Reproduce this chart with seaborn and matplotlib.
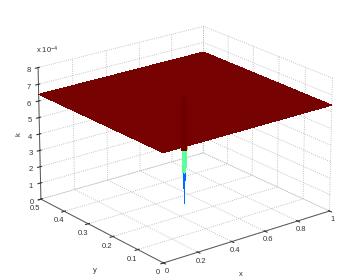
import numpy as np
import seaborn as sns
import matplotlib
matplotlib.use("Agg")
import matplotlib.pyplot as plt

# grid is refined round the dip in the middle
x_vals = [0, 0.488, 0.4895, 0.491, 0.495, 0.5, 0.505, 0.509, 0.5105, 0.512, 1]
y_vals = [0, 0.244, 0.24475, 0.2455, 0.2475, 0.25, 0.2525, 0.2545, 0.25525, 0.256, 0.5]
# k in units of 1e-4, rows follow y_vals
k_vals = [
    [6.4, 6.4, 6.4, 6.4, 6.4, 6.4, 6.4, 6.4, 6.4, 6.4, 6.4],
    [6.4, 6.4, 6.4, 6.4, 6.4, 6.4, 6.4, 6.4, 6.4, 6.4, 6.4],
    [6.4, 6.4, 5.0, 5.0, 5.0, 5.0, 5.0, 5.0, 5.0, 6.4, 6.4],
    [6.4, 6.4, 5.0, 3.4, 3.4, 3.4, 3.4, 3.4, 5.0, 6.4, 6.4],
    [6.4, 6.4, 5.0, 3.4, 2.0, 2.0, 2.0, 3.4, 5.0, 6.4, 6.4],
    [6.4, 6.4, 5.0, 3.4, 2.0, 0.1, 2.0, 3.4, 5.0, 6.4, 6.4],
    [6.4, 6.4, 5.0, 3.4, 2.0, 2.0, 2.0, 3.4, 5.0, 6.4, 6.4],
    [6.4, 6.4, 5.0, 3.4, 3.4, 3.4, 3.4, 3.4, 5.0, 6.4, 6.4],
    [6.4, 6.4, 5.0, 5.0, 5.0, 5.0, 5.0, 5.0, 5.0, 6.4, 6.4],
    [6.4, 6.4, 6.4, 6.4, 6.4, 6.4, 6.4, 6.4, 6.4, 6.4, 6.4],
    [6.4, 6.4, 6.4, 6.4, 6.4, 6.4, 6.4, 6.4, 6.4, 6.4, 6.4],
]
x_ticks = [0, 0.2, 0.4, 0.6, 0.8, 1]
x_labels = ['0', '0.2', '0.4', '0.6', '0.8', '1']
y_ticks = [0, 0.1, 0.2, 0.3, 0.4, 0.5]
y_labels = ['0', '0.1', '0.2', '0.3', '0.4', '0.5']
z_ticks = [0, 1, 2, 3, 4, 5, 6, 7, 8]
# the darker streak on the sheet above the dip
streak_x = [0.5, 0.5]
streak_y = [0.25, 0.25]
streak_k = [6.55, 3.3]


def main():
    sns.set_style('white')
    plt.rcParams['font.family'] = ['Liberation Sans', 'DejaVu Sans']
    plt.rcParams['mathtext.default'] = 'regular'

    fig = plt.figure(figsize=(3.38, 2.8), dpi=100)
    # axes3d keeps a square box, so make it big enough not to clip the sheet
    ax = fig.add_axes([-21 / 338, -65 / 280, 400 / 338, 400 / 280], projection='3d', computed_zorder=False)
    ax.patch.set_alpha(0)

    X, Y = np.meshgrid(x_vals, y_vals)
    Z = np.array(k_vals)
    cmap = plt.get_cmap('jet').with_extremes(over='#760202')
    ax.plot_surface(X, Y, Z, cmap=cmap, rstride=1, cstride=1, vmin=Z.min(), vmax=6.35,
                    linewidth=0, antialiased=False, shade=False, zorder=2)
    ax.plot(streak_x, streak_y, streak_k, color='#6f0000', lw=4.5, solid_capstyle='butt', zorder=3)

    ax.set_xlim(0, 1)
    ax.set_ylim(0, 0.5)
    ax.set_zlim(0, 8)
    ax.view_init(elev=21, azim=-128)
    ax.set_proj_type('persp', focal_length=1.2)
    ax.set_box_aspect((205, 199, 138), zoom=0.79)

    ax.set_xticks(x_ticks, x_labels)
    ax.set_yticks(y_ticks, y_labels)
    ax.set_zticks(z_ticks)
    ax.tick_params(labelsize=5.5, colors='#333333', length=2, width=0.5)
    ax.tick_params(axis='x', pad=-4)
    ax.tick_params(axis='y', pad=-3)
    ax.tick_params(axis='z', pad=-3)

    for axis in (ax.xaxis, ax.yaxis, ax.zaxis):
        axis.set_pane_color((1, 1, 1, 0))
        axis.pane.set_edgecolor((1, 1, 1, 0))
        axis.line.set_color('#555555')
        axis.line.set_linewidth(0.7)
        axis._axinfo['grid'].update(color='#b0b0b0', linestyle=':', linewidth=0.6)
    ax.grid(True)

    # mplot3d puts its own axis labels too far off, place them by hand
    fig.text(241 / 338, 1 - 274 / 280, 'x', fontsize=5.5, color='#333333', ha='center', va='center')
    fig.text(95 / 338, 1 - 270 / 280, 'y', fontsize=5.5, color='#333333', ha='center', va='center')
    fig.text(19 / 338, 1 - 134 / 280, 'k', fontsize=5.5, color='#333333', ha='center', va='center', rotation=90)
    fig.text(36 / 338, 1 - 50 / 280, r'x 10$^{-4}$', fontsize=5.5, color='#333333', va='center')

    fig.savefig('out.png', dpi=100)


if __name__ == "__main__":
    main()
